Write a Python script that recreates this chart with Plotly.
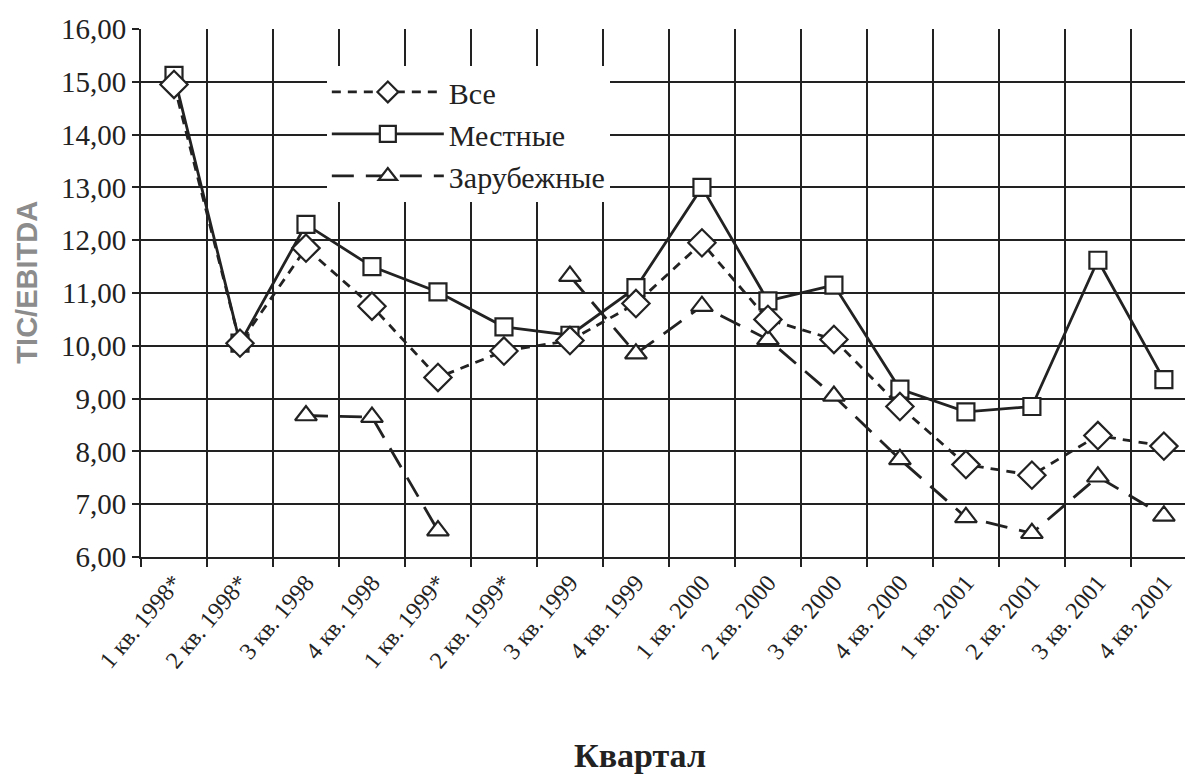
import plotly.graph_objects as go

quarters = ["1 кв. 1998*", "2 кв. 1998*", "3 кв. 1998", "4 кв. 1998",
            "1 кв. 1999*", "2 кв. 1999*", "3 кв. 1999", "4 кв. 1999",
            "1 кв. 2000", "2 кв. 2000", "3 кв. 2000", "4 кв. 2000",
            "1 кв. 2001", "2 кв. 2001", "3 кв. 2001", "4 кв. 2001"]

vse = [14.95, 10.05, 11.85, 10.75, 9.4, 9.9, 10.1, 10.8,
       11.95, 10.5, 10.12, 8.85, 7.75, 7.55, 8.3, 8.1]
mestnye = [15.12, 10.05, 12.3, 11.5, 11.02, 10.36, 10.2, 11.1,
           13.0, 10.85, 11.15, 9.18, 8.75, 8.85, 11.62, 9.36]
zarubezhnye = [None, None, 8.68, 8.65, 6.5, None, 11.32, 9.85,
               10.75, 10.12, 9.05, 7.85, 6.75, 6.45, 7.52, 6.78]

y_ticks = [6, 7, 8, 9, 10, 11, 12, 13, 14, 15, 16]

SERIF = "Liberation Serif"
INK = "#222222"

fig = go.Figure()

fig.add_trace(go.Scatter(
    x=quarters, y=mestnye, name="Местные", mode="lines+markers",
    line=dict(color=INK, width=2.8),
    marker=dict(symbol="square", size=17, color="white",
                line=dict(color=INK, width=2.2)),
    legendrank=2,
))
fig.add_trace(go.Scatter(
    x=quarters, y=zarubezhnye, name="Зарубежные", mode="lines+markers",
    line=dict(color=INK, width=2.8, dash="22px,12px"),
    connectgaps=False,
    marker=dict(symbol="triangle-up", size=19, color="white",
                line=dict(color=INK, width=2.2)),
    legendrank=3,
))
fig.add_trace(go.Scatter(
    x=quarters, y=vse, name="Все", mode="lines+markers",
    line=dict(color=INK, width=2.8, dash="9px,7px"),
    marker=dict(symbol="diamond", size=21, color="white",
                line=dict(color=INK, width=2.2)),
    legendrank=1,
))

fig.update_layout(
    width=1185, height=776, autosize=False,
    margin=dict(l=141, r=0, t=29, b=219),
    paper_bgcolor="white", plot_bgcolor="white",
    separators=", ",
    font=dict(family=SERIF, color=INK),
    showlegend=True,
    legend=dict(
        x=0.178, y=0.93, xanchor="left", yanchor="top",
        bgcolor="white", borderwidth=0,
        font=dict(family=SERIF, size=30, color=INK),
        itemwidth=112,
        tracegroupgap=0,
    ),
    xaxis=dict(
        type="category", tickson="boundaries",
        range=[-0.5, 15.32],
        showgrid=True, gridcolor=INK, gridwidth=2,
        showline=True, linecolor=INK, linewidth=2,
        ticks="outside", ticklen=8, tickcolor=INK, tickwidth=2,
        tickangle=-50,
        tickfont=dict(family=SERIF, size=24, color=INK),
        zeroline=False,
    ),
    yaxis=dict(
        range=[6, 16], tickvals=y_ticks, tickformat=".2f",
        showgrid=True, gridcolor=INK, gridwidth=2,
        showline=True, linecolor=INK, linewidth=2,
        ticks="outside", ticklen=7, tickcolor=INK, tickwidth=2,
        tickfont=dict(family=SERIF, size=29, color=INK),
        zeroline=False,
    ),
    annotations=[
        dict(text="<b>TIC/EBITDA</b>", xref="paper", yref="paper",
             x=-0.109, y=0.52, xanchor="center", yanchor="middle",
             textangle=-90, showarrow=False,
             font=dict(family="Liberation Sans", size=29, color="#8c8c8c")),
        dict(text="<b>Квартал</b>", xref="paper", yref="paper",
             x=0.478, y=-0.375, xanchor="center", yanchor="middle",
             showarrow=False,
             font=dict(family=SERIF, size=34, color=INK)),
    ],
)

fig.write_html("out.html")
